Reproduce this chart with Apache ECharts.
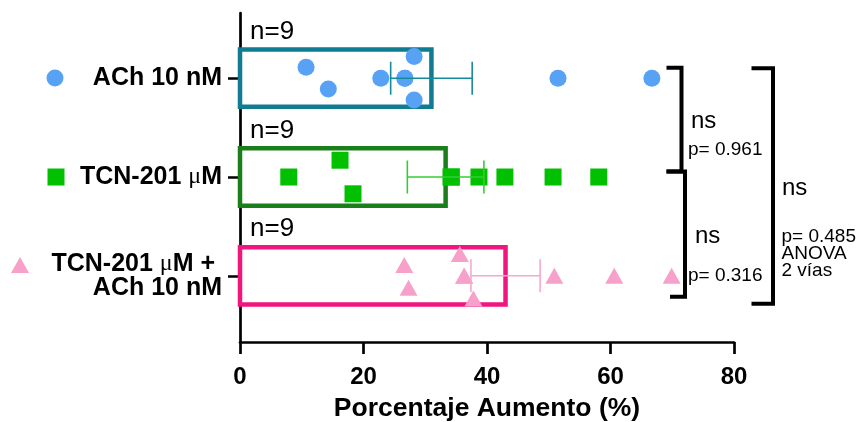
<!DOCTYPE html>
<html>
<head>
<meta charset="utf-8">
<script src="https://cdn.jsdelivr.net/npm/echarts@6/dist/echarts.min.js"></script>
<style>
    html, body { margin: 0; padding: 0; background: #fff; }
    #chart { width: 861px; height: 422px; }
</style>
</head>
<body>
<div id="chart"></div>
<script>
    // 数据
    var categories = ['ACh 10 nM', 'TCN-201 μM', 'TCN-201 μM + \nACh 10 nM'];
    var seriesNames = ['ACh 10 nM', 'TCN-201 μM', 'TCN-201 μM + ACh 10 nM'];
    var groupN = [9, 9, 9];
    var means = [31.0, 33.3, 43.0];
    var sems = [6.6, 6.2, 5.6];
    var xTicks = [0, 20, 40, 60, 80];

    var achValues = [10.7, 14.3, 22.8, 26.7, 26.7, 28.2, 28.2, 51.5, 66.7];
    var achJitter = [-0.11, 0.11, 0, 0, 0, -0.22, 0.22, 0, 0];
    var tcnValues = [7.9, 16.2, 18.3, 34.2, 34.2, 38.7, 42.9, 50.7, 58.1];
    var tcnJitter = [0, -0.17, 0.17, 0, 0, 0, 0, 0, 0];
    var comboValues = [26.6, 27.3, 35.6, 36.3, 36.3, 37.8, 50.9, 60.6, 69.9];
    var comboJitter = [-0.11, 0.12, -0.22, 0, 0, 0.23, 0, 0, 0];

    var comparisons = [
        {from: 0, to: 1, ns: 'ns', p: 'p= 0.961'},
        {from: 1, to: 2, ns: 'ns', p: 'p= 0.316'},
        {from: 0, to: 2, ns: 'ns', p: 'p= 0.485\nANOVA\n2 vías'}
    ];

    // 样式
    var FONT = '"Liberation Sans", Arial, sans-serif';
    var barColors = ['#0F7C92', '#1A7F1A', '#F0157F'];
    var pointColors = ['#58A2F6', '#00C000', '#F7A0CA'];
    var errColors = ['#168A9D', '#33CC33', '#F7A8CF'];
    var symbols = ['circle', 'rect', 'triangle'];
    var symbolSizes = [17, 17, [18, 16]];

    var chart = echarts.init(document.getElementById('chart'));

    function renderBar(params, api) {
        var i = params.dataIndex;
        var top = api.coord([0, api.value(1) - 0.29]);
        var bot = api.coord([api.value(0), api.value(1) + 0.29]);
        return {
            type: 'group',
            children: [{
                type: 'rect',
                shape: {x: top[0], y: top[1], width: bot[0] - top[0], height: bot[1] - top[1]},
                style: {fill: 'none', stroke: barColors[i], lineWidth: 4.5}
            }, {
                type: 'text',
                x: top[0] + 10,
                y: top[1] - 5,
                style: {text: 'n=' + api.value(2), fontSize: 26, fontFamily: FONT, fill: '#000', verticalAlign: 'bottom'}
            }]
        };
    }

    function renderErr(params, api) {
        var i = params.dataIndex;
        var m = api.value(0), s = api.value(1), y = api.value(2);
        var lo = api.coord([m - s, y]);
        var hi = api.coord([m + s, y]);
        var capTop = api.coord([0, y - 0.167])[1];
        var capBot = api.coord([0, y + 0.167])[1];
        var st = {stroke: errColors[i], lineWidth: 1.6};
        return {
            type: 'group',
            children: [
                {type: 'line', shape: {x1: lo[0], y1: lo[1], x2: hi[0], y2: hi[1]}, style: st},
                {type: 'line', shape: {x1: lo[0], y1: capTop, x2: lo[0], y2: capBot}, style: st},
                {type: 'line', shape: {x1: hi[0], y1: capTop, x2: hi[0], y2: capBot}, style: st}
            ]
        };
    }

    var pointSets = [[achValues, achJitter], [tcnValues, tcnJitter], [comboValues, comboJitter]];
    var series = [];
    series.push({
        type: 'custom',
        z: 1,
        renderItem: renderBar,
        encode: {x: 0, y: 1},
        data: means.map(function (m, i) { return [m, i, groupN[i]]; })
    });
    pointSets.forEach(function (set, i) {
        series.push({
            type: 'scatter',
            name: seriesNames[i],
            z: 2,
            symbol: symbols[i],
            symbolSize: symbolSizes[i],
            itemStyle: {color: pointColors[i], opacity: 1},
            data: set[0].map(function (v, k) { return [v, i + set[1][k]]; })
        });
    });
    series.push({
        type: 'custom',
        z: 3,
        renderItem: renderErr,
        encode: {x: 0, y: 2},
        data: means.map(function (m, i) { return [m, sems[i], i]; })
    });

    var legendPos = [[46.5, 69.5, 17, 17], [47.5, 168.5, 17, 17], [11, 257, 18, 16]];
    var legends = seriesNames.map(function (name, i) {
        return {
            data: [{name: name, icon: symbols[i]}],
            left: legendPos[i][0], top: legendPos[i][1],
            itemWidth: legendPos[i][2], itemHeight: legendPos[i][3],
            padding: 0, selectedMode: false,
            formatter: function () { return ''; }
        };
    });

    chart.setOption({
        animation: false,
        backgroundColor: '#fff',
        textStyle: {fontFamily: FONT},
        grid: {left: 240, right: 127, top: 13, bottom: 80, outerBoundsMode: 'none', containLabel: false},
        legend: legends,
        xAxis: {
            type: 'value', min: xTicks[0], max: xTicks[xTicks.length - 1], interval: 20,
            name: 'Porcentaje Aumento (%)', nameLocation: 'middle', nameGap: 53,
            nameTextStyle: {fontSize: 26.5, fontWeight: 'bold', color: '#000', fontFamily: FONT},
            axisLine: {show: true, onZero: false, lineStyle: {color: '#000', width: 2.7}},
            axisTick: {show: true, length: 12, lineStyle: {color: '#000', width: 2.7}},
            axisLabel: {fontSize: 24, fontWeight: 'bold', color: '#000', margin: 23, fontFamily: FONT},
            splitLine: {show: false}
        },
        yAxis: {
            type: 'value', inverse: true, min: -0.66, max: 2.67,
            axisLine: {show: true, onZero: false, lineStyle: {color: '#000', width: 2.7}},
            axisTick: {show: true, length: 12, customValues: [0, 1, 2], lineStyle: {color: '#000', width: 2.5}},
            axisLabel: {
                customValues: [0, 1, 2], margin: 18, align: 'right',
                fontSize: 25, fontWeight: 'bold', color: '#000', fontFamily: FONT, lineHeight: 24,
                formatter: function (v) {
                    var c = categories[Math.round(v)] || '';
                    return c.replace(/μ/g, '{mu|μ}');
                },
                rich: {
                    mu: {fontSize: 24, fontWeight: 'normal', fontFamily: '"Liberation Serif", serif', color: '#000', lineHeight: 24}
                }
            },
            splitLine: {show: false}
        },
        series: series
    });

    // 比较括号
    function yPix(v) { return chart.convertToPixel({yAxisIndex: 0}, v); }
    var y0 = yPix(0), y1 = yPix(1), y2 = yPix(2);
    var geo = [
        {x: 681.5, arm1: 666.5, arm2: 666.5, top: y0 - 10.5, bot: y1 - 5.5, nsX: 691, nsY: 121.7, pX: 688, pY: 150},
        {x: 685, arm1: 666.5, arm2: 670, top: y1 - 5.5, bot: y2 + 21, nsX: 695, nsY: 236.7, pX: 688, pY: 276.7},
        {x: 773, arm1: 751.5, arm2: 751.5, top: y0 - 10, bot: y2 + 28, nsX: 782, nsY: 188, pX: 781.5, pY: 237.5}
    ];
    var graphic = [];
    comparisons.forEach(function (c, i) {
        var g = geo[i];
        graphic.push({
            type: 'polyline',
            shape: {points: [[g.arm1, g.top], [g.x, g.top], [g.x, g.bot], [g.arm2, g.bot]]},
            style: {stroke: '#000', lineWidth: 4, fill: null, lineJoin: 'miter'}
        });
        graphic.push({
            type: 'text', x: g.nsX, y: g.nsY,
            style: {text: c.ns, fontSize: 24, fontFamily: FONT, fill: '#000', verticalAlign: 'middle'}
        });
        graphic.push({
            type: 'text', x: g.pX, y: g.pY - 9,
            style: {text: c.p, fontSize: 19, lineHeight: 17, fontFamily: FONT, fill: '#000', verticalAlign: 'top'}
        });
    });
    chart.setOption({graphic: graphic});
</script>
</body>
</html>
